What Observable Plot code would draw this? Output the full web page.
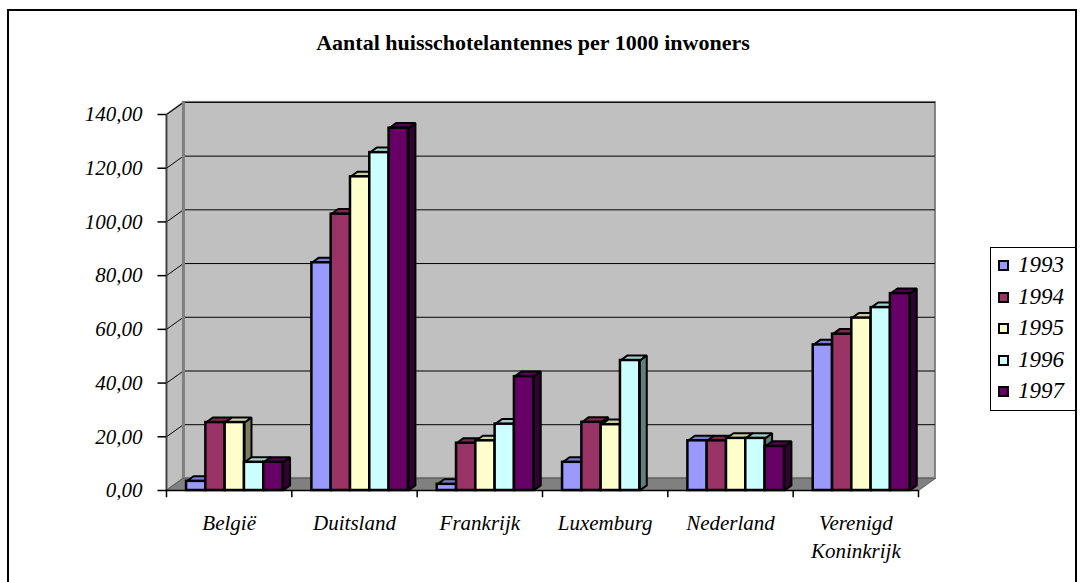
<!DOCTYPE html>
<html>
<head>
<meta charset="utf-8">
<script src="https://cdn.jsdelivr.net/npm/d3@7"></script>
<script src="https://cdn.jsdelivr.net/npm/@observablehq/plot@0.6"></script>
<style>
  html, body { margin: 0; padding: 0; background: #fff; }
  #wrap { position: relative; width: 1086px; height: 582px; overflow: hidden; font-family: 'Liberation Serif', serif; }
  #border { position: absolute; left: 7px; top: 9px; width: 1070px; height: 600px; border: 2px solid #000; box-sizing: border-box; }
  #title { position: absolute; left: 0; width: 1066px; top: 30px; text-align: center; font-weight: bold; font-size: 22px; font-family: 'Liberation Serif', serif; }
  #chart { position: absolute; left: 0; top: 0; }
  #legend { position: absolute; left: 990px; top: 247px; width: 86px; height: 164px; border: 1px solid #000; box-sizing: border-box; background: #fff; }
  .item { position: absolute; left: 7px; height: 24px; }
  .sw { position: absolute; left: 0; top: 7px; width: 11px; height: 11px; border: 2px solid #000; box-sizing: border-box; }
  .lab { position: absolute; left: 20px; top: 0; font-style: italic; font-size: 23px; line-height: 24px; font-family: 'Liberation Serif', serif; }
</style>
</head>
<body>
<div id="wrap">
  <div id="border"></div>
  <div id="title">Aantal huisschotelantennes per 1000 inwoners</div>
  <div id="chart"></div>
  <div id="legend"></div>
</div>
<script>
// ---- data ----
const countries = ["België", "Duitsland", "Frankrijk", "Luxemburg", "Nederland", "Verenigd\nKoninkrijk"];
const years = ["1993", "1994", "1995", "1996", "1997"];
const v1993 = [3.4, 84.8, 2.3, 10.5, 18.5, 54.2];
const v1994 = [25.3, 102.9, 17.6, 25.4, 18.5, 58.2];
const v1995 = [25.3, 116.8, 18.5, 24.5, 19.4, 64.2];
const v1996 = [10.5, 125.8, 24.7, 48.4, 19.4, 68.1];
const v1997 = [10.5, 134.9, 42.4, null, 16.4, 73.3];
const colors = ["#9999FF", "#993366", "#FFFFCC", "#CCFFFF", "#660066"];
const yTicks = [0, 20, 40, 60, 80, 100, 120, 140];
const yTickLabels = ["0,00", "20,00", "40,00", "60,00", "80,00", "100,00", "120,00", "140,00"];

// ---- geometry (data units) ----
const series = [v1993, v1994, v1995, v1996, v1997];
const N = countries.length;
const YMAX = 140;
const DX = 0.135, DY = 4.5;      // wall depth
const BDX = 0.056, BDY = 1.9;    // bar depth
const OFF = 0.16, BW = 0.154;    // bar offset in category, bar width

const bars = [];
series.forEach((vals, j) => vals.forEach((v, i) => {
  if (v == null) return;
  const x1 = i + OFF + j * BW;
  bars.push({country: countries[i], year: years[j], j, x1, x2: x1 + BW, v});
}));

function poly(id, pts) { return pts.map(([x, y]) => ({id, x, y})); }
const sides = years.map(() => []);
const tops = years.map(() => []);
bars.forEach((b, k) => {
  sides[b.j].push(...poly(k, [[b.x2, 0], [b.x2 + BDX, BDY], [b.x2 + BDX, b.v + BDY], [b.x2, b.v]]));
  tops[b.j].push(...poly(k, [[b.x1, b.v], [b.x1 + BDX, b.v + BDY], [b.x2 + BDX, b.v + BDY], [b.x2, b.v]]));
});

const leftWall = poly("lw", [[0, 0], [DX, DY], [DX, YMAX + DY], [0, YMAX]]);
const floor = poly("fl", [[0, 0], [N, 0], [N + DX, DY], [DX, DY]]);

const font = "'Liberation Serif', serif";
const marks = [
  // walls
  Plot.rect([0], {x1: () => DX, x2: () => N + DX, y1: () => DY, y2: () => YMAX + DY, fill: "#C0C0C0", stroke: "#808080", strokeWidth: 2}),
  Plot.line(leftWall, {x: "x", y: "y", z: "id", fill: "#C0C0C0", stroke: "#808080", strokeWidth: 2, curve: "linear-closed"}),
  Plot.ruleY(yTicks.slice(1), {y: d => d + DY, x1: () => DX, x2: () => N + DX, stroke: "#000", strokeWidth: 1}),
  Plot.link(yTicks.slice(1), {x1: () => 0, y1: d => d, x2: () => DX, y2: d => d + DY, stroke: "#000", strokeWidth: 1}),
  Plot.line(floor, {x: "x", y: "y", z: "id", fill: "#808080", stroke: "#606060", strokeWidth: 1, curve: "linear-closed"}),
  Plot.ruleX([0], {x: d => d + DX, y1: () => DY, y2: () => YMAX + DY, stroke: "#808080", strokeWidth: 3}),
];
years.forEach((y, j) => {
  const c = d3.color(colors[j]).darker(2).formatHex();
  marks.push(Plot.line(sides[j], {x: "x", y: "y", z: "id", fill: c, stroke: "#000", strokeWidth: 2, strokeLinejoin: "miter", curve: "linear-closed"}));
});
years.forEach((y, j) => {
  const c = d3.color(colors[j]).darker(0.6).formatHex();
  marks.push(Plot.line(tops[j], {x: "x", y: "y", z: "id", fill: c, stroke: "#000", strokeWidth: 2, strokeLinejoin: "miter", curve: "linear-closed"}));
});
marks.push(
  Plot.rect(bars, {x1: "x1", x2: "x2", y1: () => 0, y2: "v", fill: "year", stroke: "#000", strokeWidth: 2.5}),
  // axes
  Plot.ruleX([0], {y1: () => 0, y2: () => YMAX, stroke: "#404040", strokeWidth: 1.5}),
  Plot.ruleY([0], {x1: () => 0, x2: () => N, stroke: "#000", strokeWidth: 1.5}),
  Plot.ruleY(yTicks, {y: d => d, x1: () => -0.068, x2: () => 0, stroke: "#000", strokeWidth: 1.5}),
  Plot.ruleX(d3.range(N + 1), {x: d => d, y1: () => 0, y2: () => -2.7, stroke: "#000", strokeWidth: 1.5}),
  Plot.text(yTicks, {x: () => 0, y: d => d, text: (d, i) => yTickLabels[i], dx: -24, textAnchor: "end", fontSize: 21, fontStyle: "italic", fontFamily: font, fill: "#000"}),
  Plot.text(countries, {x: (d, i) => i + 0.5, y: () => 0, text: d => d, dy: 19, lineAnchor: "top", lineHeight: 1.35, fontSize: 21, fontStyle: "italic", fontFamily: font, fill: "#000"})
);

const chart = Plot.plot({
  width: 1086,
  height: 582,
  style: {background: "transparent", overflow: "visible", fontFamily: font},
  x: {type: "linear", domain: [0, N], range: [166, 918], axis: null},
  y: {type: "linear", domain: [0, YMAX], range: [490, 114], axis: null},
  color: {type: "ordinal", domain: years, range: colors},
  marks
});
document.getElementById("chart").appendChild(chart);

// legend
const lg = document.getElementById("legend");
years.forEach((y, j) => {
  const it = document.createElement("div");
  it.className = "item";
  it.style.top = (5 + j * 31.6) + "px";
  it.innerHTML = `<div class="sw" style="background:${colors[j]}"></div><div class="lab">${y}</div>`;
  lg.appendChild(it);
});
</script>
</body>
</html>
